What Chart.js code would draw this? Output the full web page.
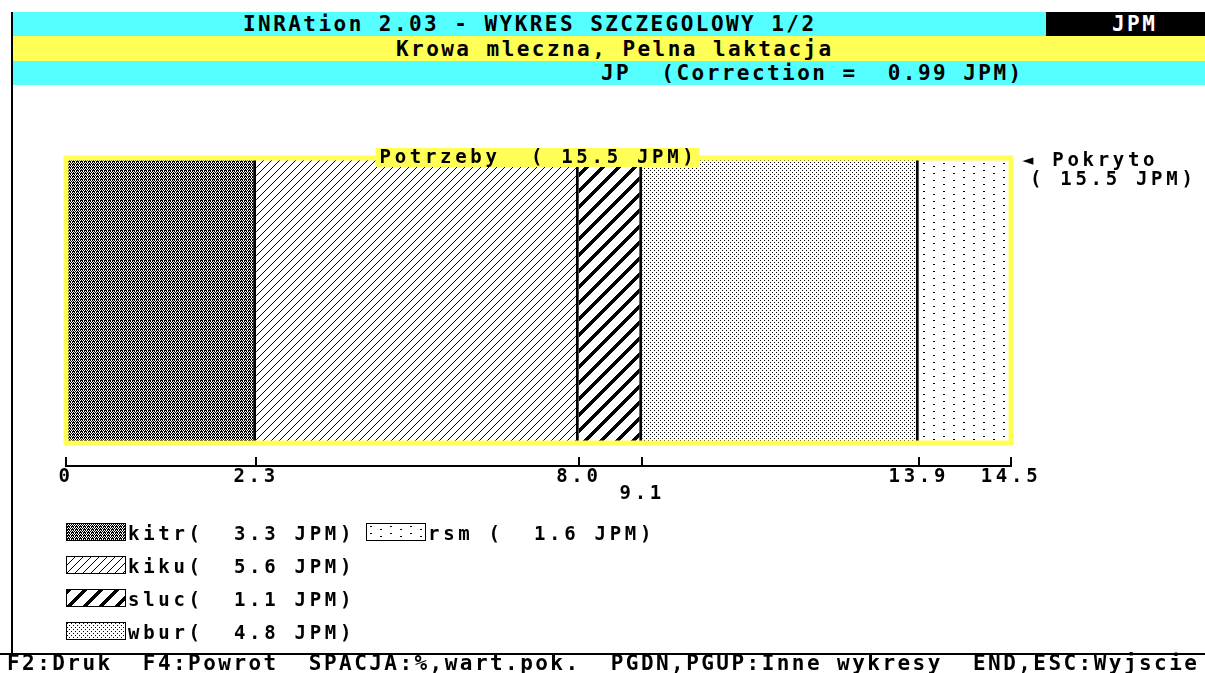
<!DOCTYPE html>
<html>
<head>
<meta charset="utf-8">
<script src="https://cdn.jsdelivr.net/npm/chart.js@4/dist/chart.umd.min.js"></script>
<style>
  body { margin: 0; background: #fff; }
  #screen { position: relative; width: 1205px; height: 673px; overflow: hidden; background: #fff; }
  #chart { position: absolute; left: 0; top: 0; }
  .bar { position: absolute; }
  .dos { position: absolute; white-space: pre; font-family: "DejaVu Sans Mono", monospace; font-weight: bold;
         font-size: 21px; letter-spacing: 2.45px; line-height: 24px; color: #000; }
  .leg { position: absolute; white-space: pre; font-family: "DejaVu Sans Mono", monospace; font-weight: bold;
         font-size: 19px; letter-spacing: 3.7px; line-height: 18px; color: #000; }
  .sw { position: absolute; width: 60px; height: 18px; box-sizing: border-box; border: 1px solid #000; }
</style>
</head>
<body>
<div id="screen">
  <canvas id="chart" width="1205" height="673"></canvas>
  <div class="bar" style="left:11px;top:12px;width:2px;height:643px;background:#000"></div>
  <div class="bar" style="left:0;top:653px;width:1205px;height:2px;background:#000"></div>
  <div class="bar" style="left:13px;top:12px;width:1033px;height:24px;background:#55ffff"></div>
  <div class="bar" style="left:1046px;top:12px;width:159px;height:24px;background:#000"></div>
  <div class="bar" style="left:13px;top:36px;width:1192px;height:25px;background:#ffff55"></div>
  <div class="bar" style="left:13px;top:61px;width:1192px;height:24px;background:#55ffff"></div>
  <div class="dos" id="t1" style="left:243px;top:12px"></div>
  <div class="dos" id="t1b" style="left:1112px;top:12px;color:#fff"></div>
  <div class="dos" id="t2" style="left:396px;top:37px"></div>
  <div class="dos" id="t3" style="left:601px;top:61px"></div>
  <div class="dos" id="foot" style="left:7px;top:651px"></div>
  <div id="legend"></div>
</div>
<script>
var categories = ["kitr", "kiku", "sluc", "wbur", "rsm"];
var values = [3.3, 5.6, 1.1, 4.8, 1.6];
var tickLabels = ["0", "2.3", "8.0", "9.1", "13.9", "14.5"];
var tickRows = [0, 0, 0, 1, 0, 0];
var needTotal = 15.5;
var coveredTotal = 15.5;
var correction = 0.99;
var unit = "JPM";

var title = "INRAtion 2.03 - WYKRES SZCZEGOLOWY 1/2";
var subtitle = "Krowa mleczna, Pelna laktacja";
var footer = "F2:Druk  F4:Powrot  SPACJA:%,wart.pok.  PGDN,PGUP:Inne wykresy  END,ESC:Wyjscie";

document.getElementById("t1").textContent = title;
document.getElementById("t1b").textContent = unit;
document.getElementById("t2").textContent = subtitle;
document.getElementById("t3").textContent = "JP  (Correction =  " + correction.toFixed(2) + " " + unit + ")";
document.getElementById("foot").textContent = footer;

// tick positions = segment boundaries
var tickValues = [0];
values.forEach(function(v, i) {
  tickValues.push(tickValues[i] + v);
});
var xMax = tickValues[tickValues.length - 1];

// 1-bit fill patterns, one per segment
function makeTile(w, h, draw) {
  var c = document.createElement("canvas");
  c.width = w;
  c.height = h;
  var g = c.getContext("2d");
  g.fillStyle = "#fff";
  g.fillRect(0, 0, w, h);
  g.fillStyle = "#000";
  draw(g, w, h);
  return c;
}

var tiles = [
  makeTile(4, 3, function(g) {
    var rows = ["1010", "0101", "1110"];
    for (var y = 0; y < 3; y++)
      for (var x = 0; x < 4; x++)
        if (rows[y][x] == "1") g.fillRect(x, y, 1, 1);
  }),
  makeTile(8, 8, function(g) {
    for (var i = 0; i < 8; i++) g.fillRect(i, 7 - i, 1, 1);
  }),
  makeTile(16, 16, function(g) {
    for (var y = 0; y < 16; y++)
      for (var k = 0; k < 5; k++) g.fillRect((15 - y + k) % 16, y, 1, 1);
  }),
  makeTile(4, 4, function(g) {
    g.fillRect(0, 0, 1, 1);
    g.fillRect(2, 2, 1, 1);
  }),
  makeTile(20, 14, function(g) {
    g.fillRect(3, 2, 2, 1);
    g.fillRect(3, 9, 2, 1);
    g.fillRect(13, 5, 2, 1);
    g.fillRect(13, 12, 2, 1);
  })
];

var ctx = document.getElementById("chart").getContext("2d");
var patterns = tiles.map(function(t) {
  return ctx.createPattern(t, "repeat");
});

// legend, 4 rows per column
var legend = document.getElementById("legend");
categories.forEach(function(name, i) {
  var col = Math.floor(i / 4);
  var row = i % 4;
  var x = 66 + col * 300;
  var y = 523 + row * 33;
  var sw = document.createElement("canvas");
  sw.className = "sw";
  sw.width = 58;
  sw.height = 16;
  sw.style.left = x + "px";
  sw.style.top = y + "px";
  var sg = sw.getContext("2d");
  sg.fillStyle = sg.createPattern(tiles[i], "repeat");
  sg.fillRect(0, 0, 58, 16);
  legend.appendChild(sw);
  var t = document.createElement("div");
  t.className = "leg";
  t.style.left = (x + 62) + "px";
  t.style.top = (y + 1) + "px";
  t.textContent = (name + "    ").slice(0, 4) + "(" + ("     " + values[i].toFixed(1)).slice(-5) + " " + unit + ")";
  legend.appendChild(t);
});

var dosFont = "bold 19px 'DejaVu Sans Mono'";

var framePlugin = {
  id: "frame",
  beforeDraw: function(chart) {
    chart.ctx.letterSpacing = "3.7px";
  },
  afterDraw: function(chart) {
    var c = chart.ctx;
    var first = chart.getDatasetMeta(0).data[0];
    var last = chart.getDatasetMeta(values.length - 1).data[0];
    var left = first.base;
    var right = last.x;
    var top = first.y - first.height / 2;
    var bottom = first.y + first.height / 2;

    c.save();
    c.letterSpacing = "3.7px";
    c.strokeStyle = "#ffff55";
    c.lineWidth = 5;
    c.strokeRect(left, top, right - left, bottom - top);

    // tick marks pointing up from the axis
    var sx = chart.scales.x;
    c.strokeStyle = "#000";
    c.lineWidth = 2;
    tickValues.forEach(function(v) {
      var px = Math.round(sx.getPixelForValue(v));
      c.beginPath();
      c.moveTo(px, sx.top);
      c.lineTo(px, sx.top - 9);
      c.stroke();
    });

    c.font = dosFont;
    c.textBaseline = "middle";
    var label = "Potrzeby  ( " + needTotal.toFixed(1) + " " + unit + ")";
    var w = c.measureText(label).width;
    var cx = (left + right) / 2;
    c.fillStyle = "#ffff55";
    c.fillRect(cx - w / 2 - 4, top - 10, w + 6, 19);
    c.fillStyle = "#000";
    c.textAlign = "left";
    c.fillText(label, cx - w / 2, top);

    c.fillText("\u25c4 Pokryto", right + 11, top + 3);
    c.fillText("( " + coveredTotal.toFixed(1) + " " + unit + ")", right + 19, top + 22);
    c.restore();
  }
};

Chart.defaults.font.family = "'DejaVu Sans Mono', monospace";
Chart.defaults.font.size = 19;
Chart.defaults.font.weight = "bold";
Chart.defaults.color = "#000";

var chart = new Chart(ctx, {
  type: "bar",
  data: {
    labels: [""],
    datasets: categories.map(function(name, i) {
      return {
        label: name,
        data: [values[i]],
        backgroundColor: patterns[i],
        borderColor: "#000",
        borderWidth: { left: 0, right: i < values.length - 1 ? 3 : 0, top: 0, bottom: 0 },
        borderSkipped: false,
        barPercentage: 0.861,
        categoryPercentage: 1
      };
    })
  },
  options: {
    indexAxis: "y",
    responsive: false,
    animation: false,
    layout: { padding: { left: 66, right: 194, top: 135, bottom: 147 } },
    plugins: { legend: { display: false }, tooltip: { enabled: false } },
    scales: {
      y: { stacked: true, display: false },
      x: {
        stacked: true,
        min: 0,
        max: xMax,
        grid: { display: false, drawTicks: false },
        border: { display: true, color: "#000", width: 2 },
        afterBuildTicks: function(scale) {
          scale.ticks = tickValues.map(function(v) {
            return { value: v };
          });
        },
        afterFit: function(scale) {
          scale.height = 60;
        },
        ticks: {
          autoSkip: false,
          maxRotation: 0,
          padding: 2,
          font: { lineHeight: 0.92 },
          callback: function(value, index) {
            return tickRows[index] ? ["", tickLabels[index]] : tickLabels[index];
          }
        }
      }
    }
  },
  plugins: [framePlugin]
});
</script>
</body>
</html>
